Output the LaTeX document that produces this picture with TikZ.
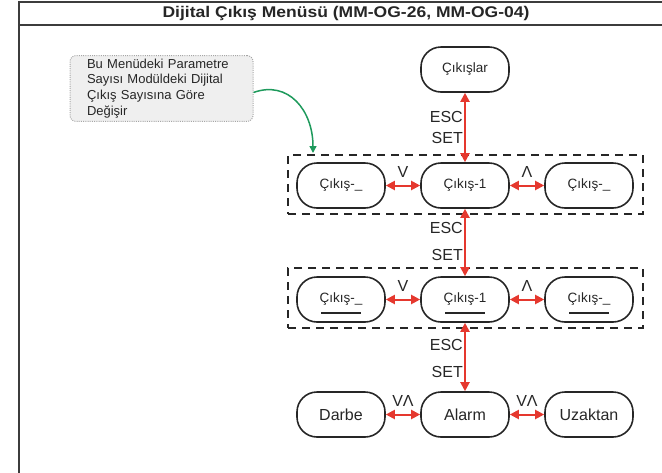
\documentclass[tikz,border=0pt]{standalone}
\usepackage{fontspec}
\setmainfont{Liberation Sans}
\usetikzlibrary{arrows.meta}
\definecolor{arrred}{HTML}{E5382E}
\definecolor{arrgreen}{HTML}{1E9A5C}
\definecolor{ink}{HTML}{262626}
\definecolor{notefill}{HTML}{EFEFEF}
\tikzset{
  frame/.style={draw=ink!90, line width=2pt},
  menu/.style={draw=ink, line width=1.6pt, rounded corners=20pt, minimum width=88pt,
    minimum height=45pt, inner sep=0pt, text=ink, font=\fontsize{13.5}{16}\selectfont},
  menubig/.style={menu, font=\fontsize{16}{19}\selectfont},
  grp/.style={draw=ink, line width=2.2pt, dash pattern=on 8pt off 6pt, inner sep=0pt},
  rarr/.style={draw=arrred, line width=2pt, {Triangle[length=9pt,width=9pt]}-{Triangle[length=9pt,width=9pt]}},
  lbl/.style={font=\fontsize{16}{19}\selectfont, text=ink, inner sep=0pt},
  note/.style={draw=gray!70, line width=1pt, dash pattern=on 1pt off 1.2pt, fill=notefill,
    rounded corners=6pt, minimum width=183pt, minimum height=63pt, inner xsep=17pt,
    text width=149pt, align=left, text=ink, font=\fontsize{13}{15.7}\selectfont},
  garr/.style={draw=arrgreen, line width=1.5pt, -{Triangle[length=7pt,width=7pt]}},
  ul/.style={draw=ink, line width=1.5pt},
}
\begin{document}
\begin{tikzpicture}[x=1pt, y=-1pt]
\useasboundingbox (0,0) rectangle (662,472);
% frame
\draw[frame] (19,480) -- (19,2) -- (670,2);
\draw[frame] (19,25) -- (670,25);
\node[inner sep=0pt, text=ink] (title) at (346,13.5)
  {\scalebox{1.13}[1]{\fontsize{15.5}{18}\selectfont\bfseries Dijital Çıkış Menüsü (MM-OG-26, MM-OG-04)}};
% groups
\node[grp, minimum width=355pt, minimum height=59pt] (g1) at (465.5,184.5) {};
\node[grp, minimum width=355pt, minimum height=60pt] (g2) at (465.5,298) {};
% nodes
\node[menu] (top) at (465,69.5) {Çıkışlar};
\node[menu] (a1) at (341,185.5) {Çıkış-\_};
\node[menu] (b1) at (465,185.5) {Çıkış-1};
\node[menu] (c1) at (589,185.5) {Çıkış-\_};
\node[menu] (a2) at (341,299.5) {Çıkış-\_};
\node[menu] (b2) at (465,299.5) {Çıkış-1};
\node[menu] (c2) at (589,299.5) {Çıkış-\_};
\node[menubig] (a3) at (341,414.5) {Darbe};
\node[menubig] (b3) at (465,414.5) {Alarm};
\node[menubig] (c3) at (589,414.5) {Uzaktan};
% underlines
\foreach \n in {a2,b2,c2}{
  \draw[ul] ([xshift=-20pt,yshift=-13.5pt]\n.center) -- ([xshift=20pt,yshift=-13.5pt]\n.center);
}
% vertical arrows
\draw[rarr] (top) -- (b1);
\draw[rarr] (b1) -- (b2);
\draw[rarr] (b2) -- (b3);
\node[lbl, anchor=east] (esc1) at (463,117) {ESC};
\node[lbl, anchor=east] (set1) at (463,138) {SET};
\node[lbl, anchor=east] (esc2) at (463,228) {ESC};
\node[lbl, anchor=east] (set2) at (463,255) {SET};
\node[lbl, anchor=east] (esc3) at (463,345) {ESC};
\node[lbl, anchor=east] (set3) at (463,372) {SET};
% horizontal arrows
\draw[rarr] (a1) -- (b1);
\draw[rarr] (b1) -- (c1);
\draw[rarr] (a2) -- (b2);
\draw[rarr] (b2) -- (c2);
\draw[rarr] (a3) -- (b3);
\draw[rarr] (b3) -- (c3);
\node[lbl] (v1) at (403,172) {V};
\node[lbl] (l1) at (527,172) {Λ};
\node[lbl] (v2) at (403,286) {V};
\node[lbl] (l2) at (527,286) {Λ};
\node[lbl] (vl3) at (403,401) {VΛ};
\node[lbl] (vl4) at (527,401) {VΛ};
% note
\node[note] (note) at (161.5,88.5) {Bu Menüdeki Parametre\\Sayısı Modüldeki Dijital\\Çıkış Sayısına Göre\\Değişir};
\coordinate (gtip) at (313,153);
\draw[garr] ([yshift=-4pt]note.east) .. controls (288,80) and (313,110) .. (gtip);
\end{tikzpicture}
\end{document}
